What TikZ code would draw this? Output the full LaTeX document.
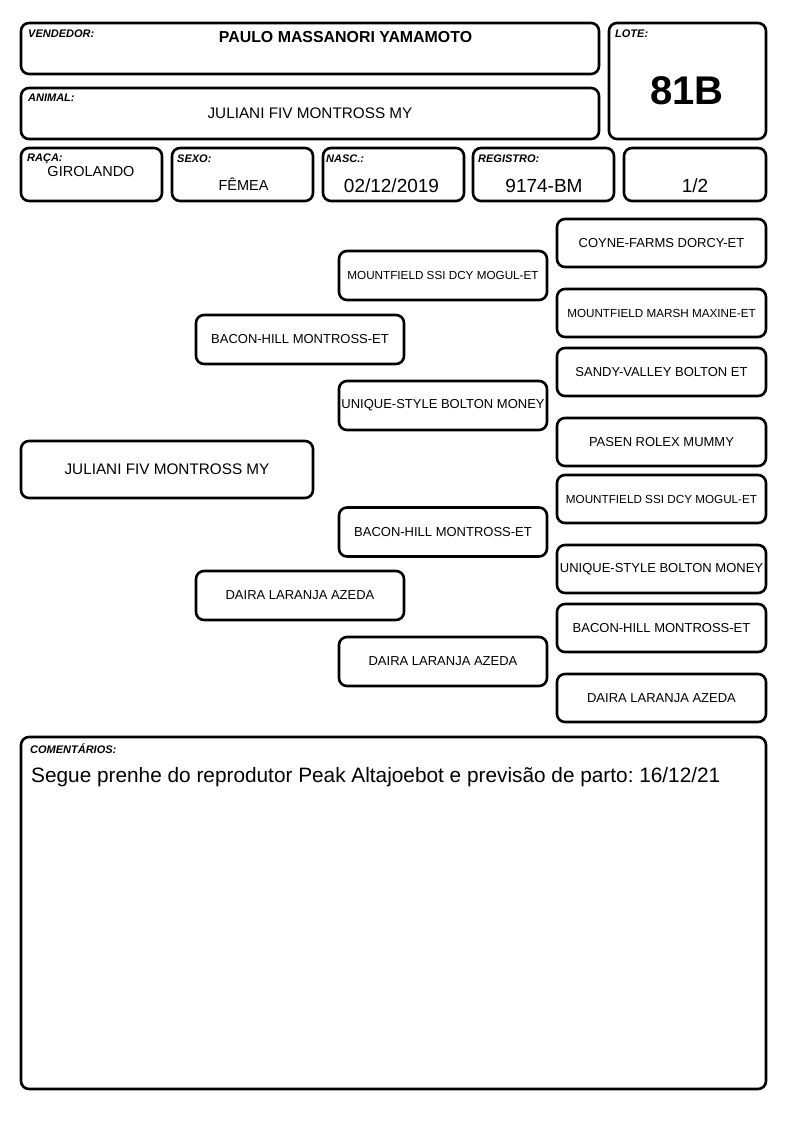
\documentclass[tikz,border=0pt]{standalone}
\usepackage{fontspec}
\setmainfont{Liberation Sans}
\frenchspacing
\begin{document}
\begin{tikzpicture}[x=1pt,y=-1pt,
  box/.style={draw, line width=2.6pt, rounded corners=8pt, inner sep=0pt},
  lbl/.style={font=\fontsize{11}{13}\selectfont\bfseries\itshape, anchor=north west, inner sep=0pt},
  val/.style={inner sep=0pt},
  ped/.style={box, font=\fontsize{13}{15}\selectfont},
  pedsm/.style={box, font=\fontsize{11.7}{14}\selectfont},
  g1/.style={minimum width=208pt, minimum height=49pt},
  g2/.style={minimum width=208pt, minimum height=49pt},
  g3/.style={minimum width=209pt, minimum height=48pt},
  hdr/.style={box, minimum width=141pt, minimum height=53pt}
]
\useasboundingbox (0,0) rectangle (794,1123);

% header
\node[box, minimum width=578pt, minimum height=51pt] (vend) at (310,48.5) {};
\node[lbl] (vendl) at (28,30) {VENDEDOR:};
\node[val, font=\fontsize{15.9}{18}\selectfont\bfseries] (vendv) at (345.5,37.5) {PAULO MASSANORI YAMAMOTO};

\node[box, minimum width=157pt, minimum height=116pt] (lote) at (687.5,81) {};
\node[lbl] (lotel) at (615,30) {LOTE:};
\node[val, font=\fontsize{40}{44}\selectfont\bfseries] (lotev) at (687,91) {81B};

\node[box, minimum width=578pt, minimum height=51pt] (anim) at (310,113.5) {};
\node[lbl] (animl) at (28,94) {ANIMAL:};
\node[val, font=\fontsize{15.3}{18}\selectfont] (animv) at (310,113) {JULIANI FIV MONTROSS MY};

\node[hdr] (raca) at (91.5,174.5) {};
\node[lbl] (racal) at (27,154) {RAÇA:};
\node[val, font=\fontsize{14.5}{17}\selectfont] (racav) at (91,172) {GIROLANDO};

\node[hdr] (sexo) at (242.5,174.5) {};
\node[lbl] (sexol) at (177,155) {SEXO:};
\node[val, font=\fontsize{14.5}{17}\selectfont] (sexov) at (243.5,184) {FÊMEA};

\node[hdr] (nasc) at (393.5,174.5) {};
\node[lbl] (nascl) at (326,155) {NASC.:};
\node[val, font=\fontsize{19}{22}\selectfont] (nascv) at (391.5,186) {02/12/2019};

\node[hdr] (reg) at (543.5,174.5) {};
\node[lbl] (regl) at (478,155) {REGISTRO:};
\node[val, font=\fontsize{19}{22}\selectfont] (regv) at (544,186) {9174-BM};

\node[hdr, minimum width=142pt] (parte) at (695,174.5) {};
\node[val, font=\fontsize{19}{22}\selectfont] (partev) at (695,186) {1/2};

% pedigree
\node[box, minimum width=292pt, minimum height=57pt, font=\fontsize{15.3}{18}\selectfont] (main) at (167,469.5) {JULIANI FIV MONTROSS MY};

\node[ped, g1] (s) at (300,339.5) {BACON-HILL MONTROSS-ET};
\node[ped, g1] (d) at (300,595.5) {DAIRA LARANJA AZEDA};

\node[pedsm, g2] (ss) at (443,275.5) {MOUNTFIELD SSI DCY MOGUL-ET};
\node[ped, g2] (sd) at (443,405.5) {UNIQUE-STYLE BOLTON MONEY};
\node[ped, g2] (ds) at (443,532) {BACON-HILL MONTROSS-ET};
\node[ped, g2] (dd) at (443,661.5) {DAIRA LARANJA AZEDA};

\node[ped, g3] (sss) at (661.5,243) {COYNE-FARMS DORCY-ET};
\node[pedsm, g3] (ssd) at (661.5,313) {MOUNTFIELD MARSH MAXINE-ET};
\node[ped, g3] (sds) at (661.5,372) {SANDY-VALLEY BOLTON ET};
\node[ped, g3] (sdd) at (661.5,442) {PASEN ROLEX MUMMY};
\node[pedsm, g3] (dss) at (661.5,499) {MOUNTFIELD SSI DCY MOGUL-ET};
\node[ped, g3] (dsd) at (661.5,569) {UNIQUE-STYLE BOLTON MONEY};
\node[ped, g3] (dds) at (661.5,628) {BACON-HILL MONTROSS-ET};
\node[ped, g3] (ddd) at (661.5,698) {DAIRA LARANJA AZEDA};

% comments
\node[box, minimum width=745pt, minimum height=352pt] (com) at (393.5,913) {};
\node[lbl] (coml) at (30,744) {COMENTÁRIOS:};
\node[val, anchor=base west, font=\fontsize{20.8}{24}\selectfont] (comv) at (31,782) {Segue prenhe do reprodutor Peak Altajoebot e previsão de parto: 16/12/21};
\end{tikzpicture}
\end{document}
